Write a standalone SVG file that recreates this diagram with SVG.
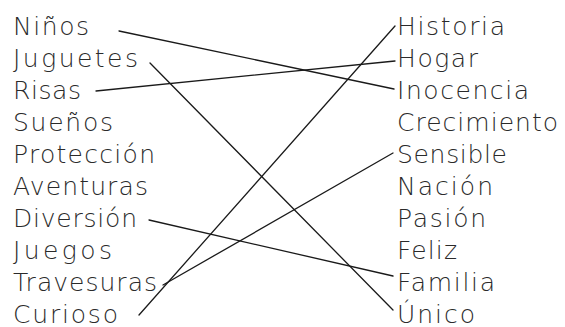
<svg xmlns="http://www.w3.org/2000/svg" width="565" height="327" viewBox="0 0 565 327">
<style>
text{font-family:"DejaVu Sans","Noto Sans",sans-serif;font-size:25px;fill:#2a2a2a;font-weight:300}
.c line{stroke:#1a1a1a;stroke-width:1.3;stroke-linecap:round}
</style>
<rect width="565" height="327" fill="#fff"/>
<g id="left">
<g id="n-ninos"><text x="13" y="35" textLength="76">Niños</text></g>
<g id="n-juguetes"><text x="13" y="67" textLength="125">Juguetes</text></g>
<g id="n-risas"><text x="13" y="99" textLength="68">Risas</text></g>
<g id="n-suenos"><text x="13" y="131" textLength="100">Sueños</text></g>
<g id="n-proteccion"><text x="13" y="163" textLength="142">Protección</text></g>
<g id="n-aventuras"><text x="13" y="195" textLength="135">Aventuras</text></g>
<g id="n-diversion"><text x="13" y="227" textLength="124">Diversión</text></g>
<g id="n-juegos"><text x="13" y="259" textLength="99">Juegos</text></g>
<g id="n-travesuras"><text x="13" y="291" textLength="144">Travesuras</text></g>
<g id="n-curioso"><text x="13" y="323" textLength="105">Curioso</text></g>
</g>
<g id="right">
<g id="n-historia"><text x="397" y="35" textLength="108">Historia</text></g>
<g id="n-hogar"><text x="397" y="67" textLength="81">Hogar</text></g>
<g id="n-inocencia"><text x="397" y="99" textLength="132">Inocencia</text></g>
<g id="n-crecimiento"><text x="397" y="131" textLength="161">Crecimiento</text></g>
<g id="n-sensible"><text x="397" y="163" textLength="110">Sensible</text></g>
<g id="n-nacion"><text x="397" y="195" textLength="96">Nación</text></g>
<g id="n-pasion"><text x="397" y="227" textLength="89">Pasión</text></g>
<g id="n-feliz"><text x="397" y="259" textLength="60">Feliz</text></g>
<g id="n-familia"><text x="397" y="291" textLength="98">Familia</text></g>
<g id="n-unico"><text x="397" y="323" textLength="78">Único</text></g>
</g>
<g id="connectors" class="c">
<line x1="119" y1="31" x2="394" y2="89"/>
<line x1="150" y1="63" x2="393" y2="310"/>
<line x1="96" y1="91" x2="395" y2="61"/>
<line x1="149" y1="220" x2="393" y2="276"/>
<line x1="163" y1="285" x2="393" y2="153"/>
<line x1="139" y1="315" x2="395" y2="26"/>
</g>
</svg>
